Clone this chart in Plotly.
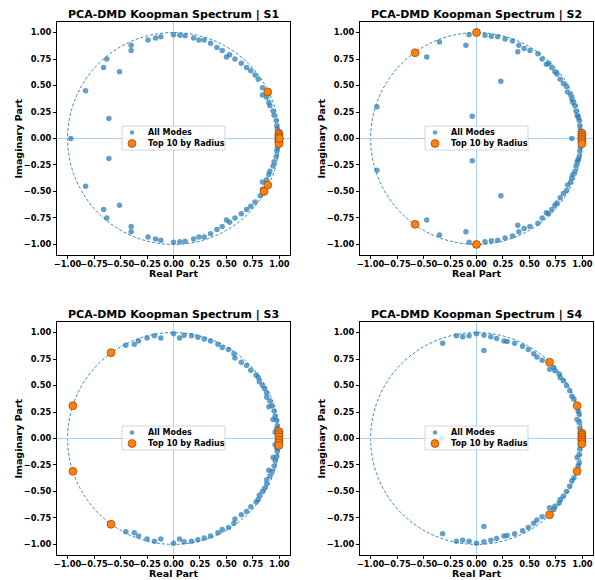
import plotly.graph_objects as go

# ---------------- data (eigenvalues) ----------------
panel_names = ["S1", "S2", "S3", "S4"]
legend_labels = ["All Modes", "Top 10 by Radius"]
x_title = "Real Part"
y_title = "Imaginary Part"

S1_all_re = [0.00, 0.06, 0.11, 0.19, 0.24, 0.29, 0.35, 0.41, 0.46, 0.50, 0.53, 0.58, 0.64, 0.69, 0.73, 0.77,
             0.80, 0.84, 0.84, 0.88, 0.90, 0.91, 0.94, 0.95, 0.97, 0.975, 0.98,
             -0.12, -0.17, -0.24, -0.40, -0.40, -0.63, -0.66, -0.51, -0.83, -0.61,
             0.00, 0.06, 0.11, 0.19, 0.24, 0.29, 0.35, 0.41, 0.46, 0.50, 0.53, 0.58, 0.64, 0.69, 0.73, 0.77,
             0.82, 0.84, 0.84, 0.88, 0.90, 0.91, 0.94, 0.95, 0.97, 0.975, 0.98,
             -0.12, -0.17, -0.24, -0.40, -0.40, -0.63, -0.66, -0.51, -0.83, -0.61,
             -0.97, 0.09]
S1_all_im = [0.98, 0.975, 0.97, 0.95, 0.93, 0.93, 0.90, 0.86, 0.83, 0.77, 0.79, 0.75, 0.71, 0.67, 0.64, 0.60,
             0.56, 0.48, 0.41, 0.39, 0.34, 0.31, 0.26, 0.22, 0.17, 0.12, 0.09,
             0.96, 0.95, 0.93, 0.88, 0.83, 0.75, 0.67, 0.63, 0.45, 0.19,
             -0.98, -0.975, -0.97, -0.95, -0.93, -0.93, -0.90, -0.86, -0.83, -0.77, -0.79, -0.75, -0.71, -0.67, -0.64, -0.60,
             -0.54, -0.48, -0.41, -0.39, -0.34, -0.31, -0.26, -0.22, -0.17, -0.12, -0.09,
             -0.96, -0.95, -0.93, -0.88, -0.83, -0.75, -0.67, -0.63, -0.45, -0.19,
             0.00, 0.00]
S1_top_re = [0.89, 0.89, 0.855, 0.995, 0.995, 0.995, 0.995, 0.995, 0.995, 1.00]
S1_top_im = [0.44, -0.44, -0.50, 0.05, 0.03, 0.01, -0.01, -0.03, -0.05, 0.00]

S2_all_re = [0.08, 0.14, 0.20, 0.27, 0.34, 0.40, 0.39, 0.45, 0.505, 0.58, 0.62, 0.66, 0.68, 0.71, 0.74, 0.76,
             0.79, 0.82, 0.85, 0.86, 0.89, 0.90, 0.91, 0.93, 0.94, 0.95, 0.96, 0.97, 0.975, 0.98,
             0.23, -0.04, -0.07, -0.10, -0.35, -0.47, -0.94,
             0.08, 0.14, 0.20, 0.27, 0.34, 0.40, 0.39, 0.45, 0.505, 0.58, 0.62, 0.66, 0.68, 0.71, 0.74, 0.76,
             0.79, 0.82, 0.85, 0.86, 0.89, 0.90, 0.91, 0.93, 0.94, 0.95, 0.96, 0.97, 0.975, 0.98,
             0.23, -0.04, -0.07, -0.10, -0.35, -0.47, -0.94,
             0.90]
S2_all_im = [0.975, 0.965, 0.96, 0.94, 0.92, 0.88, 0.82, 0.85, 0.83, 0.80, 0.75, 0.70, 0.71, 0.67, 0.63, 0.61,
             0.56, 0.52, 0.49, 0.44, 0.41, 0.37, 0.34, 0.31, 0.26, 0.22, 0.20, 0.17, 0.12, 0.08,
             0.54, 0.21, 0.98, 0.88, 0.91, 0.77, 0.30,
             -0.975, -0.965, -0.96, -0.94, -0.92, -0.88, -0.82, -0.85, -0.83, -0.80, -0.75, -0.70, -0.71, -0.67, -0.63, -0.61,
             -0.56, -0.52, -0.49, -0.44, -0.41, -0.37, -0.34, -0.31, -0.26, -0.22, -0.20, -0.17, -0.12, -0.08,
             -0.54, -0.21, -0.98, -0.88, -0.91, -0.77, -0.30,
             0.00]
S2_top_re = [0.00, 0.00, -0.58, -0.58, 0.995, 0.995, 0.995, 0.995, 0.995, 0.995]
S2_top_im = [1.00, -1.00, 0.81, -0.81, 0.05, 0.03, 0.01, -0.01, -0.03, -0.05]

S3_all_re = [0.00, 0.057, 0.10, 0.17, 0.23, 0.29, 0.35, 0.42, 0.46, 0.52, 0.57, 0.58, 0.64, 0.69, 0.73, 0.78,
             0.80, 0.81, 0.84, 0.86, 0.88, 0.88, 0.90, 0.91, 0.93, 0.94, 0.95, 0.96, 0.975, 0.98, 0.975, 0.96,
             -0.12, -0.18, -0.25, -0.33, -0.37, -0.45,
             0.00, 0.057, 0.10, 0.17, 0.23, 0.29, 0.35, 0.42, 0.46, 0.52, 0.57, 0.58, 0.64, 0.69, 0.73, 0.78,
             0.80, 0.81, 0.84, 0.86, 0.88, 0.88, 0.90, 0.91, 0.93, 0.94, 0.95, 0.96, 0.975, 0.98, 0.975, 0.96,
             -0.12, -0.18, -0.25, -0.33, -0.37, -0.45]
S3_all_im = [0.99, 0.95, 0.975, 0.97, 0.955, 0.94, 0.92, 0.89, 0.86, 0.84, 0.80, 0.76, 0.72, 0.69, 0.645, 0.60,
             0.575, 0.535, 0.50, 0.47, 0.43, 0.39, 0.30, 0.355, 0.31, 0.18, 0.26, 0.21, 0.17, 0.12, 0.09, 0.06,
             0.95, 0.97, 0.95, 0.92, 0.89, 0.88,
             -0.99, -0.95, -0.975, -0.97, -0.955, -0.94, -0.92, -0.89, -0.86, -0.84, -0.80, -0.76, -0.72, -0.69, -0.645, -0.60,
             -0.575, -0.535, -0.50, -0.47, -0.43, -0.39, -0.30, -0.355, -0.31, -0.18, -0.26, -0.21, -0.17, -0.12, -0.09, -0.06,
             -0.95, -0.97, -0.95, -0.92, -0.89, -0.88]
S3_top_re = [-0.59, -0.59, -0.95, -0.95, 0.995, 0.995, 0.995, 0.995, 0.995, 0.995]
S3_top_im = [0.81, -0.81, 0.31, -0.31, 0.065, 0.04, 0.015, -0.015, -0.04, -0.065]

S4_all_re = [0.00, 0.07, 0.07, 0.135, 0.19, 0.26, 0.29, 0.36, 0.435, 0.49, 0.54, 0.57, 0.62, 0.69, 0.73, 0.74,
             0.78, 0.79, 0.82, 0.85, 0.88, 0.90, 0.92, 0.96, 0.97, 0.95, 0.97, 0.975, 0.98,
             -0.32, -0.19, -0.13, -0.07,
             0.00, 0.07, 0.07, 0.135, 0.19, 0.26, 0.29, 0.36, 0.435, 0.49, 0.54, 0.57, 0.62, 0.69, 0.73, 0.74,
             0.78, 0.79, 0.82, 0.85, 0.88, 0.90, 0.92, 0.96, 0.97, 0.95, 0.97, 0.975, 0.98,
             -0.32, -0.19, -0.13, -0.07,
             -0.33]
S4_all_im = [0.99, 0.83, 0.975, 0.96, 0.945, 0.92, 0.915, 0.90, 0.87, 0.84, 0.80, 0.77, 0.74, 0.655, 0.67, 0.64,
             0.61, 0.575, 0.545, 0.50, 0.45, 0.40, 0.37, 0.26, 0.23, 0.18, 0.15, 0.10, 0.06,
             0.90, 0.97, 0.96, 0.97,
             -0.99, -0.83, -0.975, -0.96, -0.945, -0.92, -0.915, -0.90, -0.87, -0.84, -0.80, -0.77, -0.74, -0.655, -0.67, -0.64,
             -0.61, -0.575, -0.545, -0.50, -0.45, -0.40, -0.37, -0.26, -0.23, -0.18, -0.15, -0.10, -0.06,
             -0.90, -0.97, -0.96, -0.97,
             0.00]
S4_top_re = [0.69, 0.69, 0.95, 0.95, 0.995, 0.995, 0.995, 0.995, 0.995, 0.995]
S4_top_im = [0.72, -0.72, 0.31, -0.31, 0.05, 0.03, 0.01, -0.01, -0.03, -0.05]

tick_vals = [-1.0, -0.75, -0.5, -0.25, 0.0, 0.25, 0.5, 0.75, 1.0]

all_re = [S1_all_re, S2_all_re, S3_all_re, S4_all_re]
all_im = [S1_all_im, S2_all_im, S3_all_im, S4_all_im]
top_re = [S1_top_re, S2_top_re, S3_top_re, S4_top_re]
top_im = [S1_top_im, S2_top_im, S3_top_im, S4_top_im]

# ---------------- layout geometry ----------------
W, H = 595, 580
x_px = [(57, 290), (360, 593), (57, 290), (360, 593)]
y_px = [(22, 255), (22, 255), (322, 555), (322, 555)]
xt_off = [19, 19, 18, 18]
x_doms = [[a / W, b / W] for a, b in x_px]
y_doms = [[1 - b / H, 1 - a / H] for a, b in y_px]

FONT = "DejaVu Sans"
BLUE = "#1f77b4"
ORANGE = "#ff7f0e"
ZERO = "#a8d0f0"


def px_x(p):
    return p / W


def px_y(p):
    return 1 - p / H


fig = go.Figure()
layout = dict(
    width=W, height=H, margin=dict(l=0, r=0, t=0, b=0),
    paper_bgcolor="white", plot_bgcolor="white", showlegend=False,
    font=dict(family=FONT, size=8, color="black", weight="bold"),
    shapes=[], annotations=[],
)

for i in range(4):
    n = i + 1
    sfx = "" if n == 1 else str(n)
    fig.add_trace(go.Scatter(
        x=all_re[i], y=all_im[i], mode="markers", name=legend_labels[0],
        marker=dict(color=BLUE, size=5.5, opacity=0.7, line=dict(width=0)),
        xaxis="x" + sfx, yaxis="y" + sfx))
    fig.add_trace(go.Scatter(
        x=top_re[i], y=top_im[i], mode="markers", name=legend_labels[1],
        marker=dict(color=ORANGE, size=8, line=dict(color="#7a3a05", width=0.6)),
        xaxis="x" + sfx, yaxis="y" + sfx))

    common = dict(
        range=[-1.1, 1.1], tickvals=tick_vals, tickformat=".2f", tickangle=0, automargin=False,
        ticks="outside", ticklen=3, tickwidth=0.8, tickcolor="black",
        showline=True, linecolor="black", linewidth=1.3, mirror=True,
        showgrid=False, zeroline=True, zerolinecolor=ZERO, zerolinewidth=1,
        tickfont=dict(family=FONT, size=8.3, weight="bold"),
    )
    layout["xaxis" + sfx] = dict(common, domain=x_doms[i], anchor="y" + sfx, ticklabelstandoff=-2)
    layout["yaxis" + sfx] = dict(common, domain=y_doms[i], anchor="x" + sfx)
    layout["shapes"].append(dict(
        type="circle", xref="x" + sfx, yref="y" + sfx, x0=-1, y0=-1, x1=1, y1=1,
        line=dict(color=BLUE, width=0.9, dash="3px,2px"), layer="below"))

    x0p, x1p = x_px[i]
    y0p, y1p = y_px[i]
    cxp = (x0p + x1p) / 2
    cyp = (y0p + y1p) / 2
    # title
    layout["annotations"].append(dict(
        text=f"PCA-DMD Koopman Spectrum | {panel_names[i]}", xref="paper", yref="paper",
        x=px_x(cxp), y=px_y(y0p - 7.5), xanchor="center", yanchor="middle", showarrow=False,
        font=dict(family=FONT, size=11, weight="bold")))
    # axis titles
    layout["annotations"].append(dict(
        text=x_title, xref="paper", yref="paper",
        x=px_x(cxp), y=px_y(y1p + xt_off[i]), xanchor="center", yanchor="middle", showarrow=False,
        font=dict(family=FONT, size=9.5, weight="bold")))
    layout["annotations"].append(dict(
        text=y_title, xref="paper", yref="paper", textangle=-90,
        x=px_x(x0p - 39), y=px_y(cyp), xanchor="center", yanchor="middle", showarrow=False,
        font=dict(family=FONT, size=9.5, weight="bold")))

    # legend drawn manually (centered in axes)
    layout["shapes"].append(dict(
        type="rect", xref="paper", yref="paper",
        x0=px_x(cxp - 51.5), x1=px_x(cxp + 51.5),
        y0=px_y(cyp + 11.5), y1=px_y(cyp - 12.5),
        fillcolor="rgba(255,255,255,0.8)", line=dict(color="#cccccc", width=0.8), layer="above"))
    for k, (col, sz, op, dy) in enumerate([(BLUE, 4.5, 0.7, -6), (ORANGE, 8, 1.0, 5)]):
        layout["shapes"].append(dict(
            type="circle", xref="paper", yref="paper", xsizemode="pixel", ysizemode="pixel",
            xanchor=px_x(cxp - 41.5), yanchor=px_y(cyp + dy),
            x0=-sz / 2, x1=sz / 2, y0=-sz / 2, y1=sz / 2,
            fillcolor=col, opacity=op,
            line=dict(color="#7a3a05" if k == 1 else col, width=0.6 if k == 1 else 0), layer="above"))
        layout["annotations"].append(dict(
            text=legend_labels[k], xref="paper", yref="paper",
            x=px_x(cxp - 27.5), y=px_y(cyp + dy), xanchor="left", yanchor="middle",
            showarrow=False, font=dict(family=FONT, size=8, weight="bold")))

fig.update_layout(**layout)
fig.write_html("out.html")
